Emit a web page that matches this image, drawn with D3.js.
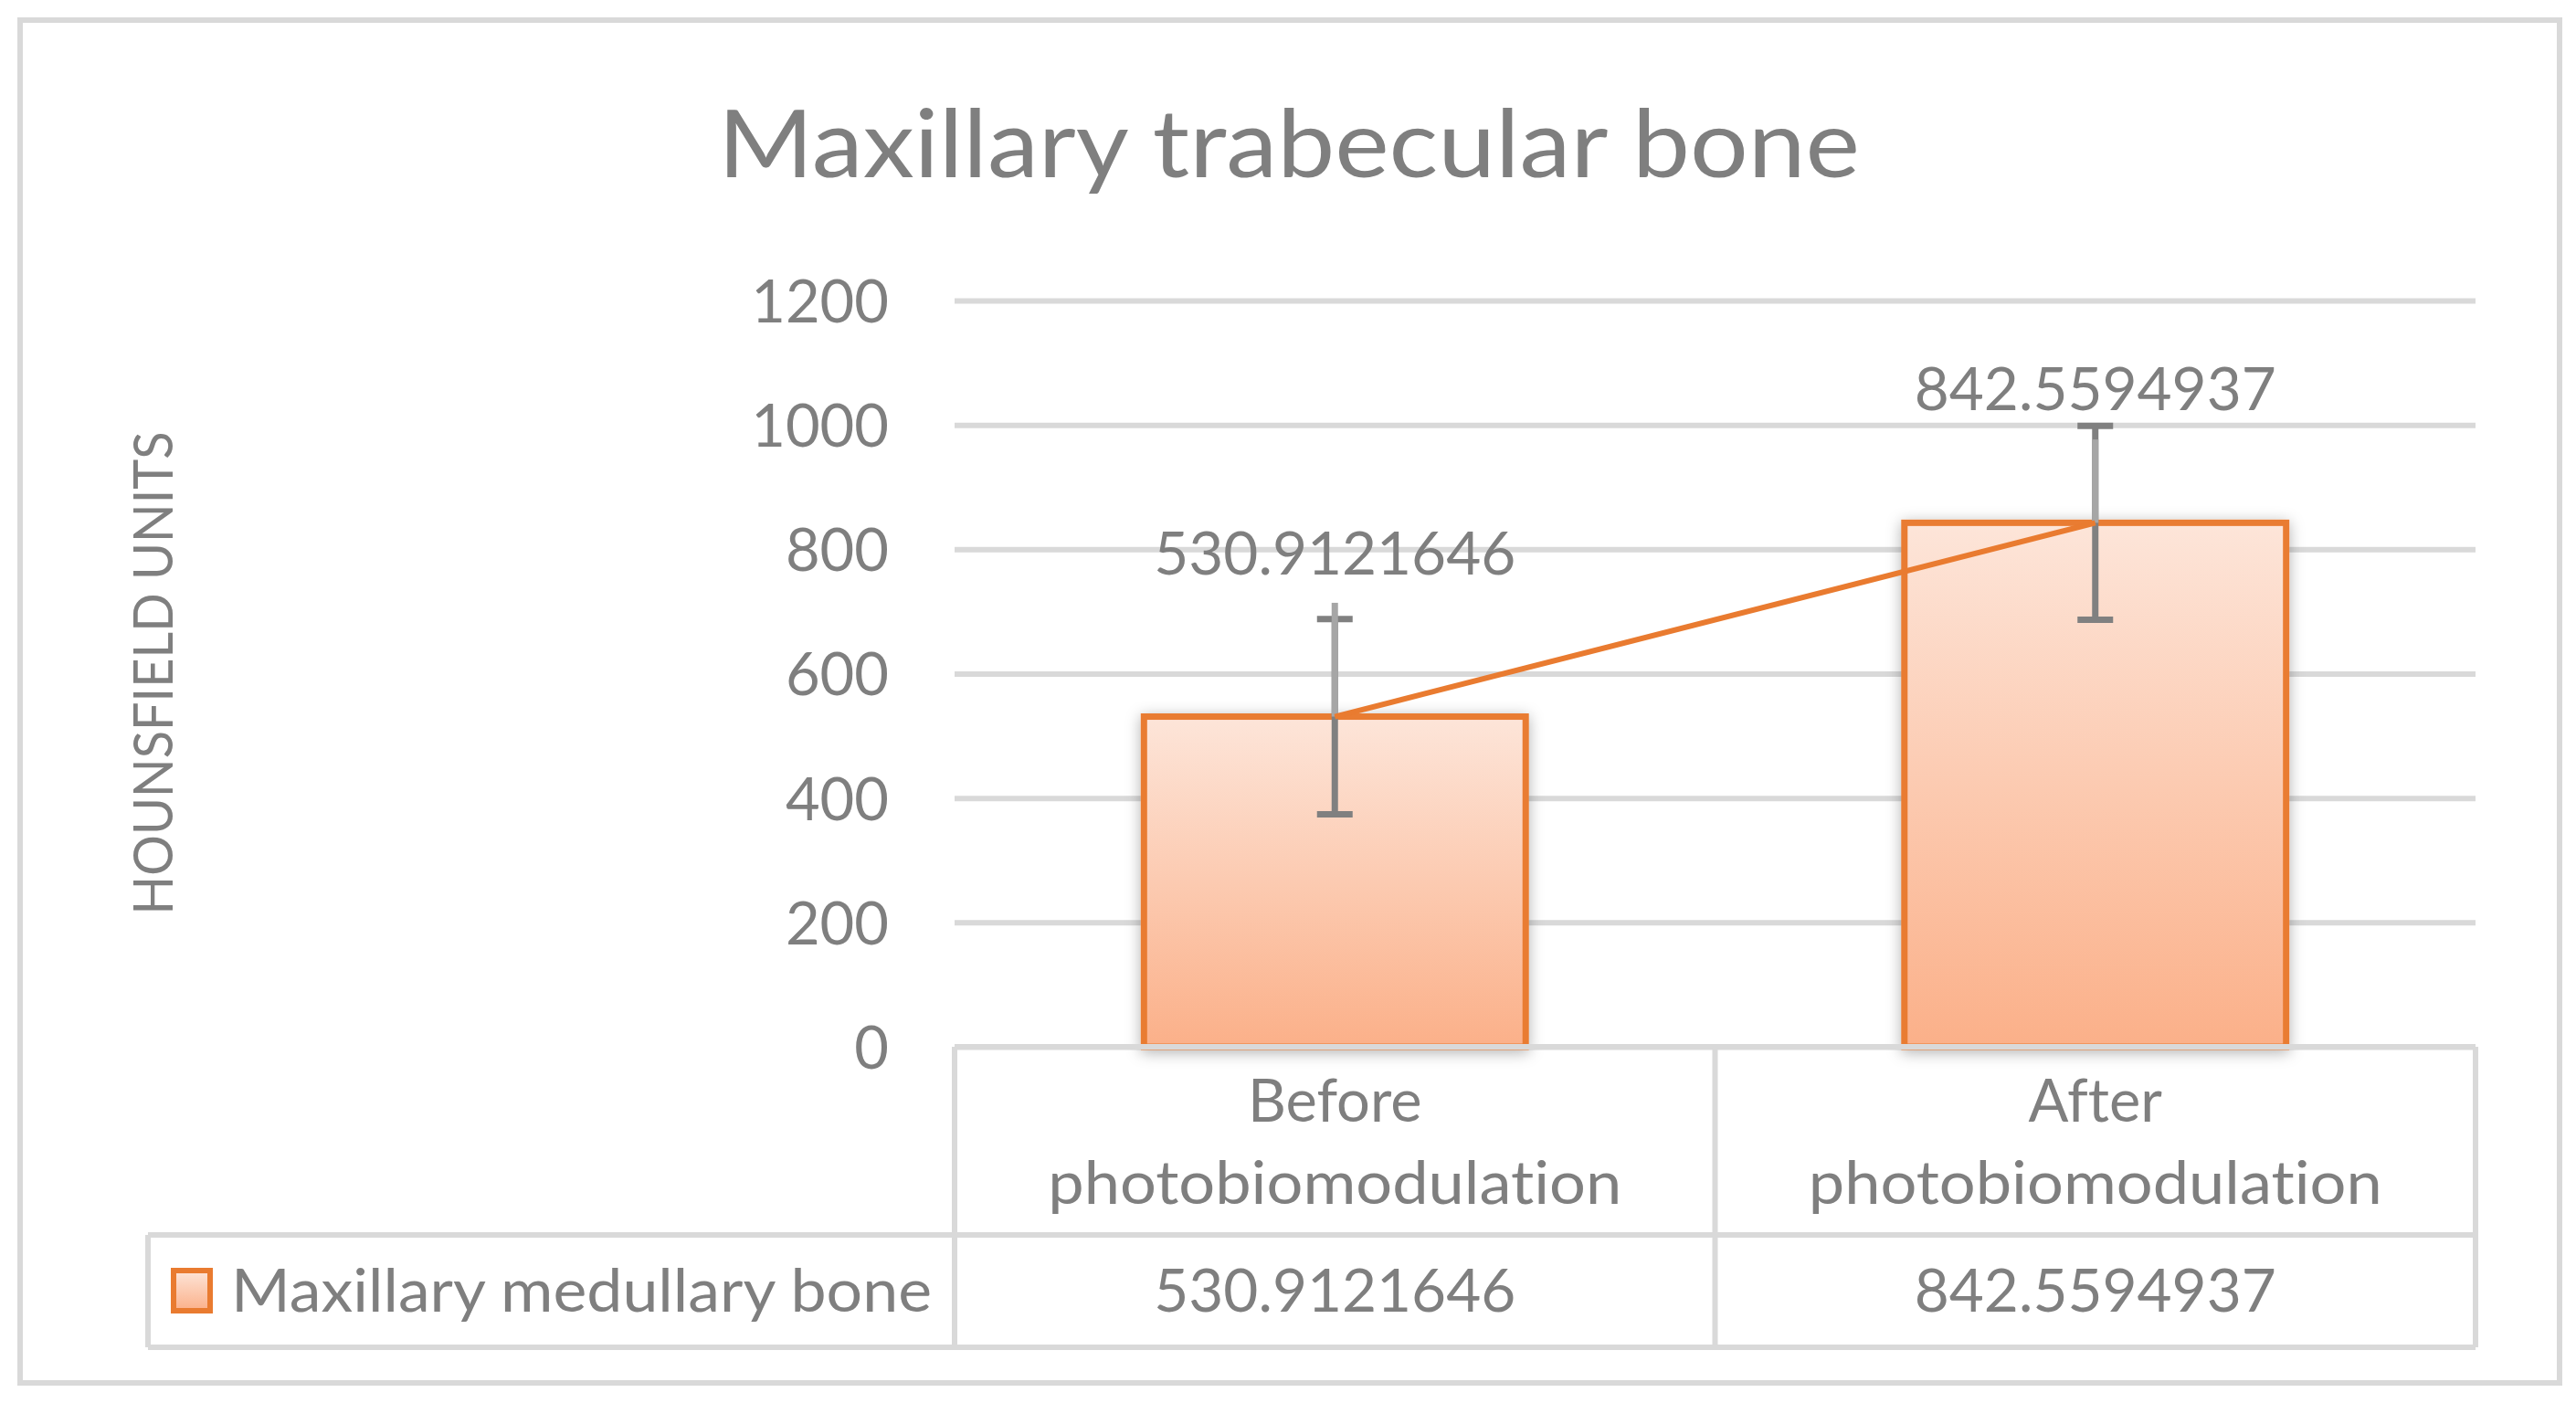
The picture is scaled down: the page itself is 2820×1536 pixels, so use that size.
<!DOCTYPE html>
<html>
<head>
<meta charset="utf-8">
<script src="https://cdn.jsdelivr.net/npm/d3@7"></script>
<style>
  html, body { margin: 0; padding: 0; background: #fff; }
  text { font-family: Lato, "Open Sans", sans-serif; fill: #7f7f7f; font-variant-ligatures: none; }
</style>
</head>
<body>
<svg id="chart"></svg>
<script>
// [A] Datos -----------------------------------------------------------------
const titleText = "Maxillary trabecular bone";
const yTitle = "HOUNSFIELD UNITS";
const seriesName = "Maxillary medullary bone";
const categories = ["Before photobiomodulation", "After photobiomodulation"];
const categoryLines = [["Before", "photobiomodulation"], ["After", "photobiomodulation"]];
const values = [530.9121646, 842.5594937];
const valueLabels = ["530.9121646", "842.5594937"];
const errors = [157, 156];       // barras de error de las columnas (+/-)
const lineErrors = [183, 134];   // barras de error de la linea (solo +)
const yTicks = [0, 200, 400, 600, 800, 1000, 1200];

// [B] Configuracion ---------------------------------------------------------
const width = 2820;
const height = 1536;
const plot = { left: 1045, right: 2710, top: 329, bottom: 1146 };
const tableMid = 1352;   // linea entre categorias y valores
const tableBottom = 1475;
const tableLeft = 162;
const labelLift = [156, 123];    // distancia de la etiqueta sobre la columna
const grey = "#d9d9d9";
const orange = "#e97b30";

const svg = d3.select("#chart")
    .attr("width", width)
    .attr("height", height);

svg.append("rect").attr("width", width).attr("height", height).attr("fill", "#fff");

const defs = svg.append("defs");
const grad = defs.append("linearGradient")
    .attr("id", "barGrad")
    .attr("x1", 0).attr("y1", 0).attr("x2", 0).attr("y2", 1);
grad.append("stop").attr("offset", "0%").attr("stop-color", "#fde5d9");
grad.append("stop").attr("offset", "100%").attr("stop-color", "#fbb089");

const shadow = defs.append("filter")
    .attr("id", "barShadow")
    .attr("x", "-20%").attr("y", "-20%").attr("width", "140%").attr("height", "140%");
shadow.append("feDropShadow")
    .attr("dx", 0).attr("dy", 3)
    .attr("stdDeviation", 8)
    .attr("flood-color", "#000")
    .attr("flood-opacity", 0.3);

// Borde exterior
svg.append("rect")
    .attr("x", 22).attr("y", 22)
    .attr("width", 2780).attr("height", 1492)
    .attr("fill", "none")
    .attr("stroke", grey)
    .attr("stroke-width", 6);

// [C] Escalas ---------------------------------------------------------------
const x = d3.scaleBand()
    .domain(categories)
    .range([plot.left, plot.right])
    .padding(0);

const y = d3.scaleLinear()
    .domain([0, 1200])
    .range([plot.bottom, plot.top]);

const barW = x.bandwidth() * 0.502;

// [D] Titulo ----------------------------------------------------------------
svg.append("text")
    .attr("x", 1411)
    .attr("y", 194)
    .attr("text-anchor", "middle")
    .attr("font-size", 103)
    .attr("textLength", 1250)
    .attr("lengthAdjust", "spacingAndGlyphs")
    .text(titleText);

// [E] Eje Y y cuadricula ----------------------------------------------------
const yAxis = d3.axisLeft(y)
    .tickValues(yTicks)
    .tickSize(-(plot.right - plot.left))
    .tickPadding(72)
    .tickFormat(d3.format("d"));

const gy = svg.append("g")
    .attr("transform", `translate(${plot.left},0)`)
    .call(yAxis);
gy.select(".domain").remove();
gy.selectAll(".tick line")
    .attr("stroke", grey)
    .attr("stroke-width", 6);
gy.selectAll(".tick text")
    .attr("font-family", "Lato, 'Open Sans', sans-serif")
    .attr("font-size", 65)
    .attr("fill", "#7f7f7f")
    .attr("dy", "0.36em");

svg.append("text")
    .attr("transform", "translate(167,737) rotate(-90)")
    .attr("text-anchor", "middle")
    .attr("dy", "0.36em")
    .attr("font-size", 60)
    .attr("textLength", 529)
    .attr("lengthAdjust", "spacingAndGlyphs")
    .text(yTitle);

// [F] Barras ----------------------------------------------------------------
const cx = i => x(categories[i]) + x.bandwidth() / 2;

svg.selectAll(".bar")
    .data(values)
    .join("rect")
    .attr("class", "bar")
    .attr("x", (d, i) => cx(i) - barW / 2)
    .attr("y", d => y(d))
    .attr("width", barW)
    .attr("height", d => y(0) - y(d))
    .attr("fill", "url(#barGrad)")
    .attr("stroke", orange)
    .attr("stroke-width", 7)
    .attr("filter", "url(#barShadow)");

// [G] Barras de error -------------------------------------------------------
const err = svg.append("g");
values.forEach((v, i) => {
    const xc = cx(i);
    err.append("line")
        .attr("x1", xc).attr("x2", xc)
        .attr("y1", y(v + errors[i])).attr("y2", y(v - errors[i]))
        .attr("stroke", "#808080").attr("stroke-width", 7);
    [v + errors[i], v - errors[i]].forEach(e => {
        err.append("line")
            .attr("x1", xc - 19.5).attr("x2", xc + 19.5)
            .attr("y1", y(e)).attr("y2", y(e))
            .attr("stroke", "#808080").attr("stroke-width", 7);
    });
    // error de la serie de linea, en gris claro
    err.append("line")
        .attr("x1", xc).attr("x2", xc)
        .attr("y1", y(v)).attr("y2", y(v + lineErrors[i]))
        .attr("stroke", "#a6a6a6").attr("stroke-width", 7);
});

// [H] Linea -----------------------------------------------------------------
const line = d3.line()
    .x((d, i) => cx(i))
    .y(d => y(d));

svg.append("path")
    .datum(values)
    .attr("d", line)
    .attr("fill", "none")
    .attr("stroke", orange)
    .attr("stroke-width", 6);

// [I] Etiquetas de datos ----------------------------------------------------
svg.selectAll(".dlabel")
    .data(values)
    .join("text")
    .attr("class", "dlabel")
    .attr("x", (d, i) => cx(i))
    .attr("y", (d, i) => y(d) - labelLift[i])
    .attr("text-anchor", "middle")
    .attr("font-size", 65)
    .attr("textLength", 396)
    .attr("lengthAdjust", "spacingAndGlyphs")
    .text((d, i) => valueLabels[i]);

// [J] Tabla de datos --------------------------------------------------------
const tbl = svg.append("g")
    .attr("stroke", grey)
    .attr("stroke-width", 6)
    .attr("fill", "none");

tbl.append("line").attr("x1", plot.left).attr("x2", plot.right).attr("y1", plot.bottom).attr("y2", plot.bottom);
tbl.append("line").attr("x1", tableLeft).attr("x2", plot.right).attr("y1", tableMid).attr("y2", tableMid);
tbl.append("line").attr("x1", tableLeft).attr("x2", plot.right).attr("y1", tableBottom).attr("y2", tableBottom);
tbl.append("line").attr("x1", tableLeft).attr("x2", tableLeft).attr("y1", tableMid).attr("y2", tableBottom);
[plot.left, ...categories.map(c => x(c) + x.bandwidth())].forEach(xv => {
    tbl.append("line").attr("x1", xv).attr("x2", xv).attr("y1", plot.bottom).attr("y2", tableBottom);
});

// Etiquetas de categoria
categoryLines.forEach((lines, i) => {
    const t = svg.append("text")
        .attr("text-anchor", "middle")
        .attr("font-size", 65);
    lines.forEach((s, j) => {
        const span = t.append("tspan")
            .attr("x", cx(i))
            .attr("y", 1228 + j * 90)
            .text(s);
        if (s.length > 10) span.attr("textLength", 628).attr("lengthAdjust", "spacingAndGlyphs");
    });
});

// Valores en la tabla
svg.selectAll(".tval")
    .data(values)
    .join("text")
    .attr("class", "tval")
    .attr("x", (d, i) => cx(i))
    .attr("y", 1436)
    .attr("text-anchor", "middle")
    .attr("font-size", 65)
    .attr("textLength", 396)
    .attr("lengthAdjust", "spacingAndGlyphs")
    .text((d, i) => valueLabels[i]);

// Leyenda en la tabla
svg.append("rect")
    .attr("x", 190).attr("y", 1391)
    .attr("width", 40).attr("height", 44)
    .attr("fill", "url(#barGrad)")
    .attr("stroke", orange)
    .attr("stroke-width", 6);

svg.append("text")
    .attr("x", 253)
    .attr("y", 1436)
    .attr("font-size", 65)
    .attr("textLength", 767)
    .attr("lengthAdjust", "spacingAndGlyphs")
    .text(seriesName);
</script>
</body>
</html>
